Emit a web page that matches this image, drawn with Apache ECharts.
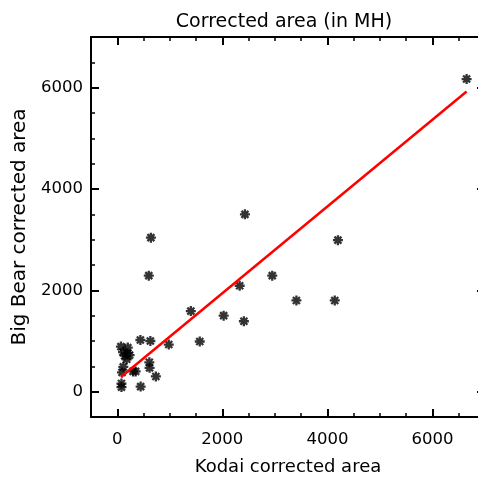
<!DOCTYPE html>
<html>
<head>
<meta charset="utf-8">
<script src="https://cdn.jsdelivr.net/npm/echarts@6/dist/echarts.min.js"></script>
<style>
html,body{margin:0;padding:0;background:#fff;overflow:hidden}
#wrap{position:relative;width:478px;height:481px;overflow:hidden}
#c{position:absolute;left:0;top:0;width:486px;height:481px}
</style>
</head>
<body>
<div id="wrap"><div id="c"></div></div>
<script>
// Kodai corrected area (x) vs Big Bear corrected area (y), in MH
const kodai   = [6650, 2430, 640, 4200, 600, 2950, 2330, 3410, 4140, 1400, 2025, 2410, 1570, 980, 440, 630, 70, 200, 110, 195, 140, 235, 180, 610, 615, 735, 300, 350, 115, 90, 80, 80, 445];
const bigbear = [6170, 3500, 3040, 2990, 2290, 2290, 2090, 1800, 1800, 1590, 1500, 1390, 990, 930, 1020, 1000, 890, 870, 780, 760, 710, 720, 640, 580, 470, 300, 400, 400, 490, 380, 160, 90, 100];
// linear fit
const fitSlope = 0.856;
const fitIntercept = 231;
const majorTicks = [0, 2000, 4000, 6000];
const axisMin = -500, axisMax = 7000, minorStep = 500;

const FONT = 'DejaVu Sans';
const points = kodai.map((x, i) => [x, bigbear[i]]);
const xLo = Math.min(...kodai), xHi = Math.max(...kodai);
const fitLine = [[xLo, fitIntercept + fitSlope * xLo], [xHi, fitIntercept + fitSlope * xHi]];
const plain = v => String(v);

function majorAxis(pos, labels, extra) {
  return Object.assign({
    type: 'value', position: pos, min: axisMin, max: axisMax,
    axisLine: { show: true, onZero: false, lineStyle: { color: '#000', width: 2 } },
    axisTick: { show: true, inside: true, length: 8, customValues: majorTicks, lineStyle: { color: '#000', width: 2 } },
    axisLabel: { show: labels, customValues: majorTicks, formatter: plain, color: '#000', fontSize: 16.5, fontFamily: FONT },
    splitLine: { show: false }
  }, extra || {});
}
function minorAxis(pos) {
  return {
    type: 'value', position: pos, min: axisMin, max: axisMax, interval: minorStep,
    axisLine: { show: false, onZero: false },
    axisTick: { show: true, inside: true, length: 4, lineStyle: { color: '#000', width: 1.5 } },
    axisLabel: { show: false },
    splitLine: { show: false }
  };
}

const chart = echarts.init(document.getElementById('c'), null, { renderer: 'canvas', width: 486, height: 481 });
chart.setOption({
  animation: false,
  backgroundColor: '#fff',
  title: {
    text: 'Corrected area (in MH)', left: 279, top: 8, textAlign: 'center',
    textStyle: { fontFamily: FONT, fontSize: 19, fontWeight: 'normal', color: '#000' }
  },
  grid: { left: 91, top: 37, right: 1, bottom: 61, containLabel: false },
  xAxis: [
    majorAxis('bottom', true, {
      name: 'Kodai corrected area', nameLocation: 'middle', nameGap: 41,
      nameTextStyle: { fontFamily: FONT, fontSize: 18, color: '#000' },
      axisLabel: { show: true, customValues: majorTicks, formatter: plain, color: '#000', fontSize: 16.5, fontFamily: FONT, margin: 14 }
    }),
    minorAxis('bottom'),
    majorAxis('top', false),
    minorAxis('top')
  ],
  yAxis: [
    majorAxis('left', true, {
      name: 'Big Bear corrected area', nameLocation: 'middle', nameGap: 56,
      nameTextStyle: { fontFamily: FONT, fontSize: 20, color: '#000' },
      axisLabel: { show: true, customValues: majorTicks, formatter: plain, color: '#000', fontSize: 16.5, fontFamily: FONT, margin: 8 }
    }),
    minorAxis('left'),
    majorAxis('right', false),
    minorAxis('right')
  ],
  series: [
    {
      type: 'scatter', xAxisIndex: 0, yAxisIndex: 0, z: 2,
      data: points,
      symbol: 'path://M0 5 L10 5 M5 0 L5 10 M1.5 1.5 L8.5 8.5 M8.5 1.5 L1.5 8.5',
      symbolSize: 10,
      itemStyle: { color: 'rgba(0,0,0,0)', borderColor: '#000', borderWidth: 2.3 }
    },
    {
      type: 'line', xAxisIndex: 0, yAxisIndex: 0, z: 3,
      data: fitLine, symbol: 'none',
      lineStyle: { color: '#ff0000', width: 2.5 }
    }
  ]
});
</script>
</body>
</html>
